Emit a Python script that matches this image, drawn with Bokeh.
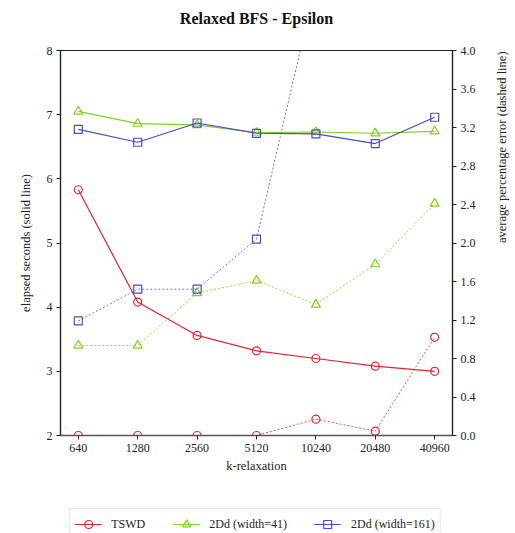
import math
from bokeh.plotting import figure
from bokeh.layouts import column
from bokeh.models import (Range1d, LinearAxis, FixedTicker, Legend, LegendItem,
                          NumeralTickFormatter, Title)
from bokeh.embed import file_html
from bokeh.resources import INLINE

k_labels = ["640", "1280", "2560", "5120", "10240", "20480", "40960"]
x_idx = list(range(len(k_labels)))

tswd_time = [5.83, 4.08, 3.56, 3.32, 3.20, 3.08, 3.00]
d41_time = [7.05, 6.86, 6.84, 6.72, 6.73, 6.71, 6.74]
d161_time = [6.77, 6.57, 6.87, 6.71, 6.70, 6.55, 6.96]

tswd_err = [0.0, 0.0, 0.0, 0.0, 0.17, 0.045, 1.02]
d41_err = [0.935, 0.935, 1.48, 1.61, 1.36, 1.78, 2.41]
d161_err = [1.19, 1.52, 1.52, 2.04, 4.7, 4.9, 5.2]

left_ticks = [2, 3, 4, 5, 6, 7, 8]
right_ticks = [0.0, 0.4, 0.8, 1.2, 1.6, 2.0, 2.4, 2.8, 3.2, 3.6, 4.0]

RED = "#e4202f"
GREEN = "#7fcf1f"
BLUE = "#4a4ac6"
FONT = "Liberation Serif"

p = figure(frame_width=392, frame_height=385,
           min_border_left=60, min_border_right=63, min_border_top=50, min_border_bottom=61,
           x_range=Range1d(-0.3, 6.3), y_range=Range1d(2, 8),
           output_backend="svg", toolbar_location=None,
           title="Relaxed BFS - Epsilon")
p.extra_y_ranges = {"err": Range1d(0, 4)}

p.title.align = "center"
p.title.text_font = FONT
p.title.text_font_size = "16px"
p.title.text_font_style = "bold"
p.title.text_color = "#111111"
p.title.standoff = 15
# small spacer between the title and the frame
p.add_layout(Title(text=" ", text_font_size="2px", standoff=12), "above")

p.xgrid.visible = False
p.ygrid.visible = False
p.outline_line_color = "#222222"
p.outline_line_width = 1.2

p.xaxis.ticker = FixedTicker(ticks=x_idx)
p.xaxis.major_label_overrides = {i: lab for i, lab in zip(x_idx, k_labels)}
p.xaxis.axis_label = "k-relaxation"
p.yaxis.ticker = FixedTicker(ticks=left_ticks)
p.yaxis.axis_label = "elapsed seconds (solid line)"

raxis = LinearAxis(y_range_name="err", ticker=FixedTicker(ticks=right_ticks),
                   formatter=NumeralTickFormatter(format="0.0"),
                   axis_label="average percentage error (dashed line)")
p.add_layout(raxis, "right")

for ax in [p.xaxis[0], p.yaxis[0], raxis]:
    ax.major_label_text_font = FONT
    ax.major_label_text_font_size = "12px"
    ax.major_label_text_color = "#222222"
    ax.axis_label_text_font = FONT
    ax.axis_label_text_font_size = "12.5px"
    ax.axis_label_text_font_style = "normal"
    ax.axis_label_text_color = "#222222"
    ax.major_tick_in = 0
    ax.major_tick_out = 4
    ax.minor_tick_line_color = None
    ax.axis_line_color = "#222222"
    ax.axis_line_width = 1.2
    ax.major_tick_line_color = "#222222"
    ax.major_label_standoff = 4

p.xaxis.axis_line_color = "#555555"
p.xaxis.axis_line_width = 1.6
p.xaxis.axis_label_standoff = 4
p.yaxis.axis_label_standoff = 11
raxis.axis_label_standoff = 23
raxis.axis_label_orientation = math.pi / 2

series = [
    ("TSWD", tswd_time, tswd_err, RED, "circle", 8),
    ("2Dd (width=41)", d41_time, d41_err, GREEN, "triangle", 9),
    ("2Dd (width=161)", d161_time, d161_err, BLUE, "square", 8),
]

for name, t, e, col, mk, sz in series:
    p.line(x_idx, t, line_color=col, line_width=1.2)
    p.scatter(x_idx, t, marker=mk, size=sz, line_color=col, line_width=1.2,
              fill_color=None)
    p.line(x_idx, e, line_color=col, line_width=0.8, line_dash="2 2",
           y_range_name="err")
    p.scatter(x_idx, e, marker=mk, size=sz, line_color=col, line_width=1.2,
              fill_color=None, y_range_name="err")

# legend strip below the chart (its series lie outside its own visible range)
lg = figure(width=515, height=37, min_border=0, x_range=Range1d(-0.3, 6.3),
            y_range=Range1d(100, 101), x_axis_location=None, y_axis_location=None,
            output_backend="svg", toolbar_location=None)
lg.title.standoff = 0
lg.xgrid.visible = False
lg.ygrid.visible = False
lg.outline_line_color = None

items = []
for name, t, e, col, mk, sz in series:
    l1 = lg.line(x_idx, t, line_color=col, line_width=1.2)
    s1 = lg.scatter(x_idx, t, marker=mk, size=sz, line_color=col, line_width=1.2,
                    fill_color=None)
    items.append(LegendItem(label=name, renderers=[l1, s1]))

legend = Legend(items=items, orientation="horizontal", location="top_center",
                label_text_font=FONT, label_text_font_size="12px",
                label_text_color="#222222",
                glyph_width=27, label_standoff=10, spacing=27, padding=5,
                border_line_color="#cccccc", border_line_width=1,
                background_fill_alpha=1.0, margin=12)
lg.add_layout(legend, "center")

layout = column(p, lg, spacing=0)
open("out.html", "w").write(file_html(layout, INLINE))
